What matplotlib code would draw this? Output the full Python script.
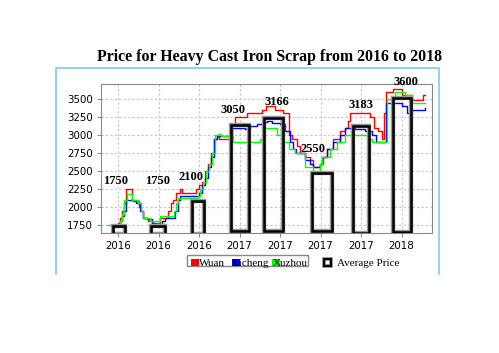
import numpy as np
import matplotlib.pyplot as plt
import matplotlib.patheffects as pe
from matplotlib.patches import Rectangle

# weeks since start (tick every 10 weeks)
tick_pos = [0, 10, 20, 30, 40, 50, 60, 70]
tick_lab = ['2016', '2016', '2016', '2017', '2017', '2017', '2017', '2018']

wuan_x = [-1.0, 0.0, 0.5, 1.0, 1.5, 2.0, 3.5, 4.7, 5.2, 5.7, 6.2, 7.4, 8.4, 10.4, 12.3, 13.1, 13.6,
          14.3, 15.3, 15.8, 19.3, 20.0, 20.7, 21.5, 22.2, 23.0, 23.7, 24.4, 24.9, 28.1, 28.9, 31.9,
          35.6, 36.5, 38.8, 40.7, 42.2, 43.0, 44.2, 44.9, 46.2, 47.4, 48.1, 49.9, 50.6, 51.6, 53.1,
          54.8, 56.0, 56.8, 57.3, 62.2, 63.2, 64.2, 65.2, 65.7, 66.2, 67.9, 70.1, 72.6, 75.3, 75.8]
wuan_y = [1750, 1780, 1850, 1950, 2050, 2250, 2100, 2080, 2000, 1950, 1850, 1800, 1780, 1850, 1950, 2050, 2100,
          2200, 2250, 2200, 2250, 2300, 2350, 2500, 2600, 2750, 2950, 2980, 2950, 3150, 3250, 3300,
          3350, 3400, 3350, 3300, 3000, 2950, 2850, 2750, 2700, 2650, 2550, 2600, 2700, 2800, 2950,
          3050, 3100, 3200, 3300, 3250, 3100, 3050, 2950, 3300, 3600, 3640, 3560, 3480, 3550, 3550]

licheng_x = [-0.7, 0.5, 1.0, 1.5, 2.0, 3.7, 4.4, 5.4, 6.2, 7.2, 8.4, 9.1, 10.9, 11.6, 14.1, 14.8, 15.3,
             20.0, 20.7, 21.5, 22.2, 23.0, 23.7, 24.4, 28.1, 31.4, 32.6, 34.3, 35.6, 36.8, 38.0, 40.0,
             41.2, 42.5, 43.2, 44.0, 46.2, 47.4, 48.1, 49.9, 50.4, 51.6, 53.1, 54.8, 56.0, 58.5, 60.9,
             62.7, 63.7, 66.2, 70.1, 71.4, 72.6, 75.8]
licheng_y = [1750, 1800, 1880, 1950, 2100, 2080, 2050, 1950, 1850, 1830, 1780, 1750, 1800, 1850, 1950, 2100, 2150,
             2200, 2300, 2400, 2550, 2700, 2950, 2980, 3100, 3080, 3120, 3150, 3180, 3200, 3170, 3150,
             3050, 2900, 2800, 2750, 2650, 2600, 2550, 2600, 2700, 2800, 2900, 3000, 3100, 3080, 3050,
             3000, 2900, 3450, 3400, 3300, 3350, 3380]

xuzhou_x = [-2.7, 0.5, 1.0, 1.5, 2.2, 3.5, 4.9, 5.7, 6.2, 7.9, 10.4, 13.8, 14.3, 14.8, 19.8, 20.2, 21.0,
            21.7, 22.5, 23.2, 24.0, 24.7, 25.4, 28.4, 35.1, 36.0, 39.3, 40.7, 42.2, 43.7, 46.2, 48.1,
            49.9, 50.4, 52.3, 54.0, 56.0, 61.5, 62.7, 66.4, 68.4, 70.9, 72.6, 75.8]
xuzhou_y = [1750, 1800, 1900, 2100, 2180, 2100, 2050, 1950, 1850, 1800, 1870, 1950, 2050, 2120, 2150, 2250, 2350,
            2500, 2600, 2750, 3000, 3020, 2980, 2900, 2950, 3100, 3000, 2900, 2800, 2750, 2550, 2500,
            2600, 2700, 2800, 2900, 3000, 2950, 2900, 3500, 3600, 3550, 3450, 3450]

# average price boxes
avg_price = [1750, 1750, 2100, 3050, 3166, 2550, 3183, 3600]
bar_center = [0.2, 9.9, 19.8, 30.1, 38.4, 50.4, 60.0, 70.1]
bar_width = [2.9, 3.5, 3.0, 4.4, 4.7, 4.9, 4.0, 4.4]
bar_top = [1736, 1736, 2083, 3139, 3236, 2472, 3125, 3514]
bar_bottom = [1630, 1630, 1630, 1667, 1667, 1667, 1640, 1653]
lab_x = [-0.6, 9.8, 18.0, 28.3, 39.3, 48.2, 59.9, 71.1]
lab_y = [2361, 2361, 2417, 3347, 3458, 2806, 3417, 3736]

fig = plt.figure(figsize=(4.99, 3.53), dpi=100)
ax = fig.add_axes([0.2024, 0.340, 0.6633, 0.422])

ax.plot(wuan_x, wuan_y, color='red', lw=1.0, drawstyle='steps-post', zorder=3)
ax.plot(licheng_x, licheng_y, color='blue', lw=1.0, drawstyle='steps-post', zorder=3)
ax.plot(xuzhou_x, xuzhou_y, color='#00ff00', lw=1.0, drawstyle='steps-post', zorder=3)

bottoms = np.array(bar_bottom)
ax.bar(bar_center, np.array(bar_top) - bottoms, width=bar_width, bottom=bottoms,
       facecolor='none', edgecolor='black', linewidth=1.8, zorder=4,
       path_effects=[pe.Stroke(linewidth=3.2, foreground='#9a9a9a'), pe.Normal()])

for x, y, v in zip(lab_x, lab_y, avg_price):
    ax.text(x, y, str(v), ha='center', va='center', fontsize=9, fontweight='bold',
            family='Liberation Serif', clip_on=False, zorder=5)

ax.set_xlim(-4.2, 77.5)
ax.set_ylim(1639, 3708)
ax.set_xticks(tick_pos)
ax.set_xticklabels(tick_lab)
ax.set_yticks(np.arange(1750, 3501, 250))
ax.tick_params(labelsize=7.4, length=3, color='#888888', pad=3)
ax.grid(True, color='#c4c4c4', linestyle=(0, (2, 2)), linewidth=0.8)
for s in ax.spines.values():
    s.set_color('#888888')

fig.text(0.541, 0.826, 'Price for Heavy Cast Iron Scrap from 2016 to 2018', ha='center', va='baseline',
         fontsize=11.4, fontweight='bold', family='Liberation Serif')

# light blue frame, open at the bottom
W, H = 499.0, 353.0
fx = [56 / W, 56 / W, 439 / W, 439 / W]
fy = [1 - 274 / H, 1 - 68 / H, 1 - 68 / H, 1 - 274 / H]
fig.add_artist(plt.Line2D(fx, fy, color='#7fc9ec', lw=1.2))

# legends
fig.add_artist(Rectangle((187 / W, 1 - 266 / H), 121 / W, 11 / H, fill=False, edgecolor='#888888', lw=1))
legend_names = ['Wuan', 'Licheng', 'Xuzhou']
legend_colors = ['red', 'blue', '#00ff00']
sq_x = [191, 232, 272]
for px, name, col in zip(sq_x, legend_names, legend_colors):
    txt_x = px + 8 if name == 'Wuan' else px + 1
    fig.text(txt_x / W, 1 - 265.5 / H, name, fontsize=8, family='Liberation Serif', va='baseline')
    fig.add_artist(Rectangle((px / W, 1 - 266 / H), 7.5 / W, 7.5 / H, facecolor=col, edgecolor='none'))
fig.add_artist(Rectangle((323.5 / W, 1 - 266 / H), 7 / W, 7 / H, fill=False, edgecolor='black', lw=1.6,
                         path_effects=[pe.Stroke(linewidth=2.6, foreground='#9a9a9a'), pe.Normal()]))
fig.text(337 / W, 1 - 266 / H, 'Average Price', fontsize=8, family='Liberation Serif', va='baseline')

fig.savefig('out.png', dpi=100)
